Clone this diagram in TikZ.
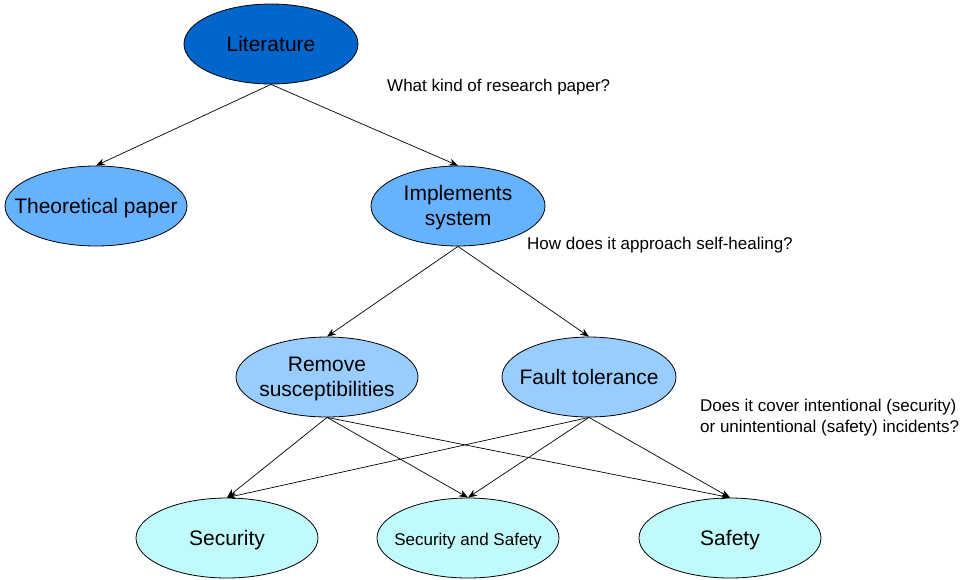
\documentclass[tikz,border=0pt]{standalone}
\usepackage{fontspec}
\setmainfont{Liberation Sans}
\usetikzlibrary{shapes.geometric,arrows.meta}

\definecolor{topblue}{HTML}{0066CC}
\definecolor{midblue}{HTML}{66B2FF}
\definecolor{lightblue}{HTML}{99CCFF}
\definecolor{paleCyan}{HTML}{C0FAFA}

% zero-size centred text so the ellipse size is set only by the minimum sizes
\newcommand{\ctext}[1]{\makebox[0pt][c]{\raisebox{-7.5pt}[0pt][0pt]{\begin{tabular}{@{}c@{}}#1\end{tabular}}}}

\tikzset{
  topic/.style={ellipse, draw=black, line width=0.8pt, inner sep=0pt,
    minimum width=182pt, minimum height=80pt,
    font=\fontsize{21}{25}\selectfont},
  question/.style={font=\fontsize{17}{21}\selectfont, align=left, inner sep=0pt},
  small/.style={font=\fontsize{17}{21}\selectfont},
  link/.style={draw=black, line width=0.7pt, -{Stealth[length=9pt,width=7pt]}}
}

\begin{document}
\begin{tikzpicture}[x=1pt,y=-1pt]
  \useasboundingbox (0,0) rectangle (966,579);

  % tree of topics
  \node[topic, fill=topblue, minimum width=174pt] (lit) at (271,44) {\ctext{Literature}};
  \node[topic, fill=midblue] (theo) at (96,206) {\ctext{Theoretical paper}};
  \node[topic, fill=midblue, minimum width=174pt] (impl) at (458,206) {\ctext{Implements\\system}};
  \node[topic, fill=lightblue] (rem) at (327,377) {\ctext{Remove\\susceptibilities}};
  \node[topic, fill=lightblue, minimum width=174pt] (fault) at (589,377) {\ctext{Fault tolerance}};
  \node[topic, fill=paleCyan] (sec) at (227,538) {\ctext{Security}};
  \node[topic, fill=paleCyan, small] (both) at (468,538) {\ctext{Security and Safety}};
  \node[topic, fill=paleCyan] (saf) at (730,538) {\ctext{Safety}};

  % connectors
  \draw[link] (lit.south) -- (theo.north);
  \draw[link] (lit.south) -- (impl.north);
  \draw[link] (impl.south) -- (rem.north);
  \draw[link] (impl.south) -- (fault.north);
  \foreach \src in {rem,fault}
    \foreach \dst in {sec,both,saf}
      \draw[link] (\src.south) -- (\dst.north);

  % questions asked at each level
  \node[question, anchor=west] (q1) at (387,87) {What kind of research paper?};
  \node[question, anchor=west] (q2) at (527,245) {How does it approach self-healing?};
  \node[question, anchor=west] (q3) at (700,418) {Does it cover intentional (security)\\or unintentional (safety) incidents?};
\end{tikzpicture}
\end{document}
